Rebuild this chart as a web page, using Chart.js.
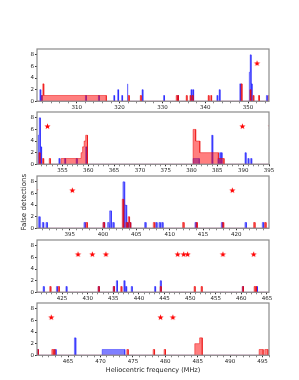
<!DOCTYPE html>
<html>
<head>
<meta charset="utf-8">
<script src="https://cdn.jsdelivr.net/npm/chart.js@4.4.0/dist/chart.umd.min.js"></script>
<style>
   html, body { margin: 0; padding: 0; background: #fff; }
   #wrap { position: relative; width: 299px; height: 380px; overflow: hidden; }
   #wrap canvas { position: absolute; left: 0; }
</style>
</head>
<body>
<div id="wrap"></div>
<script>
// frequency range of each panel (MHz) and tick spacing
const panelMin = [300.7, 350.07, 390.1, 420.1, 460.2]
const panelMax = [354.9, 395.0, 424.9, 465.4, 496.0]
const majorStep = [10, 5, 5, 5, 5]
const minorStep = [2, 1, 1, 1, 1]
const yTicks = [0, 2, 4, 6, 8]

const binWidth = 0.22

// blue histogram: single bins
const blueFreq = [
   301.47, 301.8, 312.12, 315.15, 318.72, 319.65, 320.58, 321.84, 325.34, 330.37,
   333.64, 336.76, 337.18, 342.82, 343.36, 348.18, 350.4, 350.6, 350.85, 354.4,
   355.5, 357.75, 359.6, 384.0, 385.2, 385.55, 385.8, 390.45, 391.0, 391.55,
   397.25, 400.15, 400.8, 401.15, 401.55, 403.1, 403.4, 403.7, 404.05, 406.35,
   408.0, 408.5, 408.9, 413.9, 417.85, 421.4, 424.0,
   425.85, 432.15, 435.1, 435.7, 437.15, 437.5, 438.6, 443.15, 444.25, 460.3, 463.05,
   466.08
]
const blueCount = [
   2, 1, 1, 1, 1, 2, 1, 3, 2, 1,
   1, 2, 2, 1, 2, 3, 5, 8, 3, 1,
   1, 1, 3, 5, 1, 2, 2, 2, 1, 1,
   1, 1, 1, 3, 1, 8, 4, 1, 1, 1,
   1, 1, 1, 1, 1, 1, 1,
   1, 1, 1, 2, 2, 1, 1, 1, 2, 1, 1,
   3
]
// blue histogram: runs of bins
const blueBandStart = [380.3, 470.25]
const blueBandEnd = [381.5, 473.75]
const blueBandCount = [1, 1]

// red histogram: single bins
const redFreq = [
   302.17, 322.15, 324.94, 333.33, 333.64, 335.66, 336.53, 337.06, 340.79, 341.38,
   348.49, 350.55, 351.25, 352.55,
   397.55, 400.1, 403.0, 403.55, 403.9, 404.05, 407.65, 412.05, 414.05, 418.0,
   422.7, 424.35,
   432.15, 435.1, 436.56, 444.25, 450.88, 452.24, 460.3, 462.6, 462.85,
   474.17, 478.23, 479.92
]
const redCount = [
   3, 1, 1, 1, 1, 1, 1, 1, 1, 1,
   3, 2, 1, 1,
   1, 1, 5, 1, 2, 1, 1, 1, 1, 1,
   1, 1,
   1, 1, 1, 1, 1, 1, 1, 1, 1,
   1, 1, 1
]
// red histogram: runs of bins
const redBandStart = [301.8, 354.75, 358.6, 358.9, 359.2, 359.5, 380.3, 380.8, 381.6, 385.2, 484.55, 485.3, 494.48, 495.35]
const redBandEnd = [316.9, 358.6, 358.9, 359.2, 359.5, 359.85, 380.8, 381.6, 385.2, 386.3, 485.3, 485.7, 495.1, 495.86]
const redBandCount = [1, 1, 2, 3, 4, 5, 6, 4, 2, 1, 2, 3, 1, 1]

// star markers
const starFreq = [352.1, 389.85, 395.4, 419.4, 428.11, 430.91, 433.56, 447.57, 448.74, 449.51, 456.4, 462.4, 479.26, 481.16]
const starLevel = 6.5

const fontFamily = 'DejaVu Sans'
const canvasTop = [44, 107, 171, 235, 298]

// turn bins into one stepped outline
function buildSteps(freq, count, bStart, bEnd, bCount) {
   const segs = freq.map((f, i) => [f - binWidth / 2, f + binWidth / 2, count[i]])
   bStart.forEach((s, i) => segs.push([s, bEnd[i], bCount[i]]))
   const edges = [...new Set(segs.flatMap(s => [s[0], s[1]]))].sort((a, b) => a - b)
   const pts = [{ x: 290, y: 0 }, { x: edges[0], y: 0 }]
   for (let i = 0; i < edges.length - 1; i++) {
      const a = edges[i], b = edges[i + 1], mid = (a + b) / 2
      let h = 0
      segs.forEach(s => { if (s[0] <= mid && s[1] >= mid) h = Math.max(h, s[2]) })
      pts.push({ x: a, y: h }, { x: b, y: h })
   }
   pts.push({ x: edges[edges.length - 1], y: 0 }, { x: 500, y: 0 })
   return pts
}

function makeStar(r) {
   const c = document.createElement('canvas')
   const s = Math.ceil(r * 2) + 2
   c.width = c.height = s
   const g = c.getContext('2d')
   g.fillStyle = '#ff0000'
   g.beginPath()
   for (let k = 0; k < 10; k++) {
      const rr = k % 2 ? r * 0.42 : r
      const a = -Math.PI / 2 + k * Math.PI / 5
      g.lineTo(s / 2 + rr * Math.cos(a), s / 2 + rr * Math.sin(a))
   }
   g.closePath()
   g.fill()
   return c
}

const redSteps = buildSteps(redFreq, redCount, redBandStart, redBandEnd, redBandCount)
const blueSteps = buildSteps(blueFreq, blueCount, blueBandStart, blueBandEnd, blueBandCount)
const starPoints = starFreq.map(f => ({ x: f, y: starLevel }))
const starImg = makeStar(3.2)

const framePlugin = {
   id: 'frame',
   afterDatasetsDraw(chart) {
      const { ctx, chartArea: a } = chart
      ctx.save()
      ctx.strokeStyle = '#8a8a8a'
      ctx.lineWidth = 1.2
      ctx.strokeRect(a.left, a.top, a.right - a.left, a.bottom - a.top)
      ctx.restore()
   }
}

const wrap = document.getElementById('wrap')

for (let p = 0; p < 5; p++) {
   const last = p === 4
   const canvas = document.createElement('canvas')
   canvas.width = 299
   canvas.height = last ? 80 : 72
   canvas.style.top = canvasTop[p] + 'px'
   wrap.appendChild(canvas)
   const xH = last ? 22.7 : 14.7

   new Chart(canvas, {
      type: 'line',
      data: {
         datasets: [
            {
               data: redSteps,
               fill: 'origin',
               backgroundColor: 'rgba(255, 0, 0, 0.5)',
               borderColor: 'rgba(235, 0, 0, 0.7)',
               borderWidth: 0.7,
               pointRadius: 0,
               tension: 0,
               clip: 0
            },
            {
               data: blueSteps,
               fill: 'origin',
               backgroundColor: 'rgba(0, 0, 255, 0.5)',
               borderColor: 'rgba(0, 0, 255, 0.55)',
               borderWidth: 0.7,
               pointRadius: 0,
               tension: 0,
               clip: 0
            },
            {
               data: starPoints,
               showLine: false,
               pointStyle: starImg,
               pointRadius: 4,
               clip: 0
            }
         ]
      },
      options: {
         responsive: false,
         animation: false,
         events: [],
         layout: { padding: { top: 4, right: 30, left: 0, bottom: 0 } },
         plugins: { legend: { display: false }, tooltip: { enabled: false } },
         scales: {
            x: {
               type: 'linear',
               min: panelMin[p],
               max: panelMax[p],
               afterBuildTicks: (s) => {
                  const t = []
                  for (let v = Math.ceil(panelMin[p] / minorStep[p]) * minorStep[p]; v <= panelMax[p]; v += minorStep[p]) {
                     t.push({ value: v })
                  }
                  s.ticks = t
               },
               afterFit: (s) => { s.height = xH },
               border: { display: false },
               grid: {
                  drawOnChartArea: false,
                  tickLength: 2,
                  tickColor: '#333',
                  tickWidth: (c) => (c.tick && c.tick.value % majorStep[p] === 0 ? 1 : 0.6)
               },
               ticks: {
                  autoSkip: false,
                  maxRotation: 0,
                  padding: 1,
                  color: '#222',
                  font: { family: fontFamily, size: 5.5 },
                  callback: (v) => (v % majorStep[p] === 0 ? String(v) : '')
               },
               title: {
                  display: last,
                  text: 'Heliocentric frequency (MHz)',
                  color: '#222',
                  font: { family: fontFamily, size: 6.5 },
                  padding: { top: 0, bottom: 3.4 }
               }
            },
            y: {
               min: 0,
               max: 9,
               afterBuildTicks: (s) => { s.ticks = yTicks.map(v => ({ value: v })) },
               afterFit: (s) => { s.width = 37 },
               border: { display: false },
               grid: { drawOnChartArea: false, tickLength: 2, tickColor: '#333' },
               ticks: {
                  padding: 1,
                  color: '#222',
                  font: { family: fontFamily, size: 5.5 }
               },
               title: {
                  display: p === 2,
                  text: 'False detections',
                  color: '#222',
                  font: { family: fontFamily, size: 7 },
                  padding: { top: 20, bottom: 0 }
               }
            }
         }
      },
      plugins: [framePlugin]
   })
}
</script>
</body>
</html>
